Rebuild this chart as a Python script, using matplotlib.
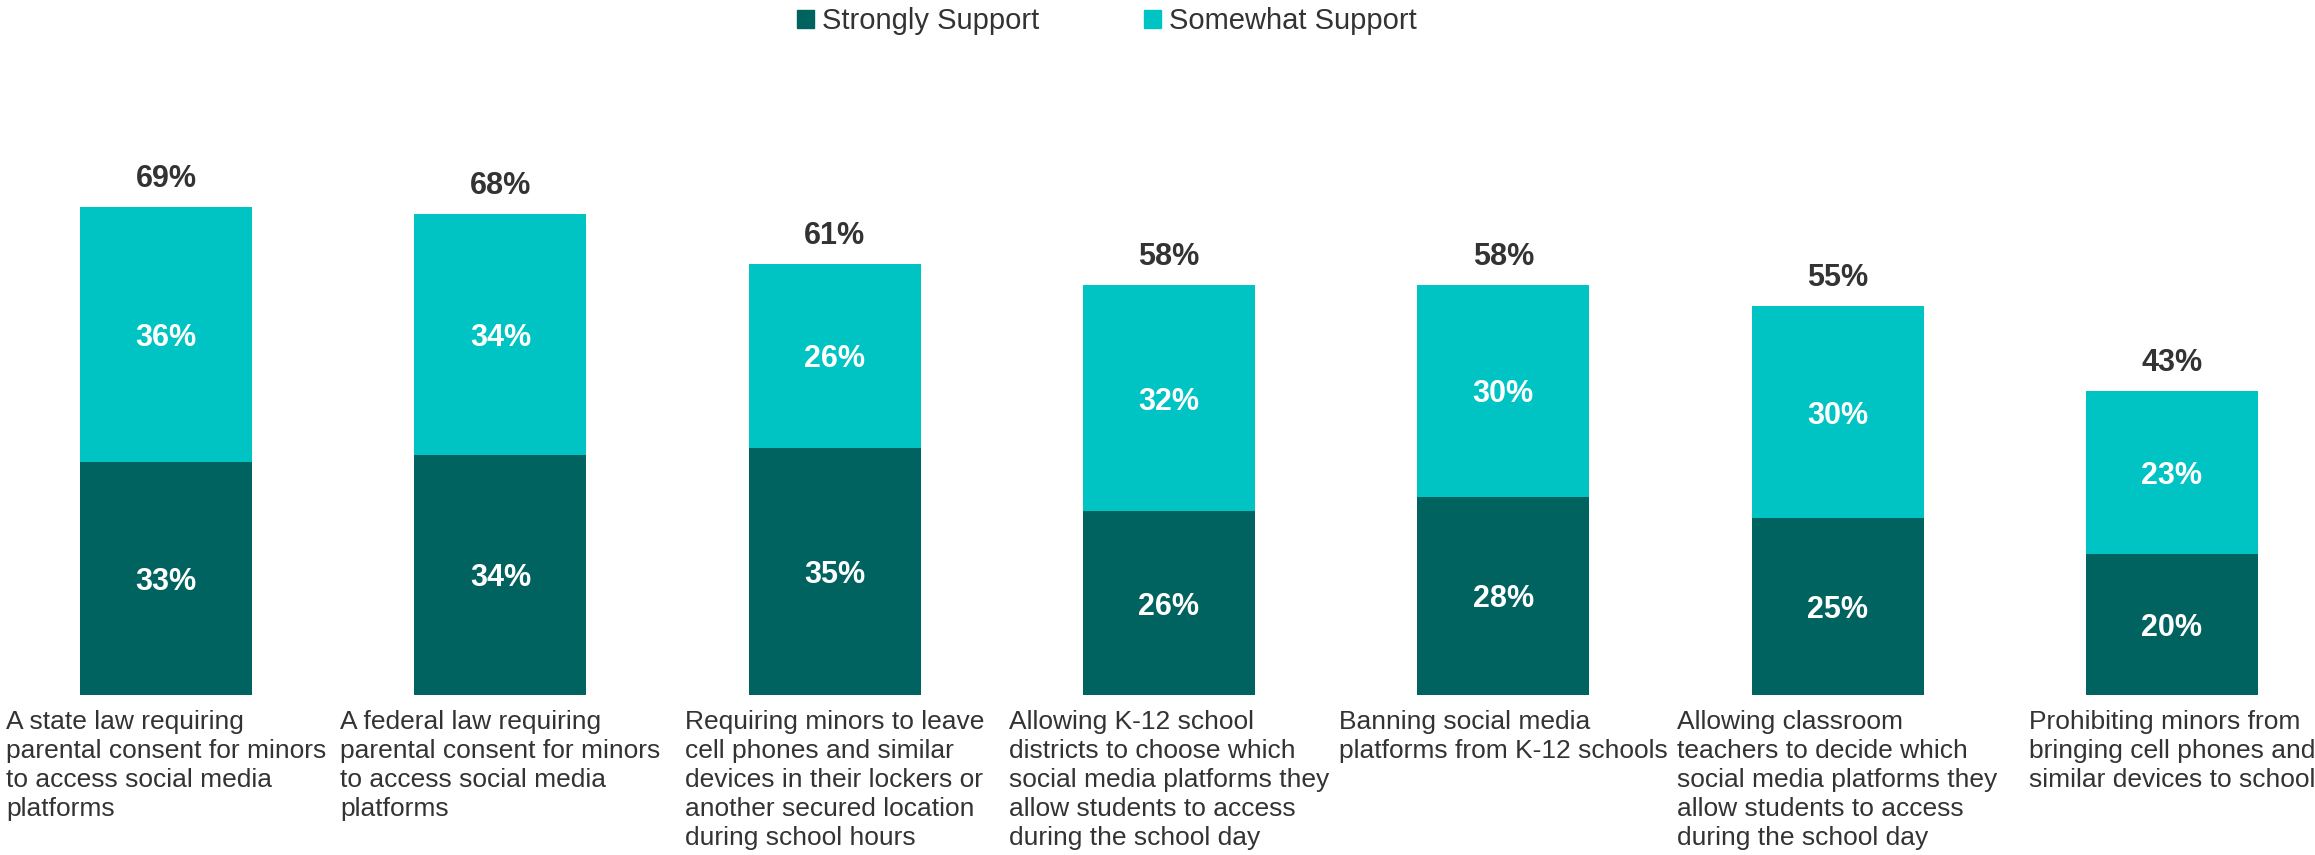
import matplotlib.pyplot as plt
from matplotlib.patches import Patch

plt.rcParams['font.family'] = ['Liberation Sans', 'DejaVu Sans']

categories = [
    'A state law requiring\nparental consent for minors\nto access social media\nplatforms',
    'A federal law requiring\nparental consent for minors\nto access social media\nplatforms',
    'Requiring minors to leave\ncell phones and similar\ndevices in their lockers or\nanother secured location\nduring school hours',
    'Allowing K-12 school\ndistricts to choose which\nsocial media platforms they\nallow students to access\nduring the school day',
    'Banning social media\nplatforms from K-12 schools',
    'Allowing classroom\nteachers to decide which\nsocial media platforms they\nallow students to access\nduring the school day',
    'Prohibiting minors from\nbringing cell phones and\nsimilar devices to school',
]
strongly = [33, 34, 35, 26, 28, 25, 20]
somewhat = [36, 34, 26, 32, 30, 30, 23]
totals = [69, 68, 61, 58, 58, 55, 43]

dark = '#00635F'
light = '#00C4C3'
txt = '#333333'

fig = plt.figure(figsize=(23.15, 8.55), dpi=100)
ax = fig.add_axes([0, 160 / 855, 1, 695 / 855])

x = list(range(len(categories)))
w = 0.514
ax.bar(x, strongly, w, color=dark)
ax.bar(x, somewhat, w, bottom=strongly, color=light)

for i in x:
    ax.annotate(f'{strongly[i]}%', (i, strongly[i] / 2), xytext=(0, -2.5),
                textcoords='offset points', ha='center', va='center',
                color='white', fontsize=22, fontweight='bold')
    ax.annotate(f'{somewhat[i]}%', (i, strongly[i] + somewhat[i] / 2), xytext=(0, -2.5),
                textcoords='offset points', ha='center', va='center',
                color='white', fontsize=22, fontweight='bold')
    ax.annotate(f'{totals[i]}%', (i, strongly[i] + somewhat[i]), xytext=(0, 20),
                textcoords='offset points', ha='center', va='center',
                color=txt, fontsize=22, fontweight='bold')
    ax.annotate(categories[i], (i, 0), xytext=(0, -11), textcoords='offset points',
                ha='center', va='top', multialignment='left', color=txt,
                fontsize=19, linespacing=1.26, annotation_clip=False)

ax.set_xlim(-0.4966, 6.428)
ax.set_ylim(0, 98.3)
ax.axis('off')

handles = [Patch(color=dark, label='Strongly Support'),
           Patch(color=light, label='Somewhat Support')]
fig.legend(handles=handles, loc='upper center', bbox_to_anchor=(0.478, 1.022), ncol=2,
           frameon=False, fontsize=21, handlelength=0.6, handleheight=0.6,
           handletextpad=0.25, columnspacing=3.6, labelcolor=txt)

fig.savefig('out.png', dpi=100)
